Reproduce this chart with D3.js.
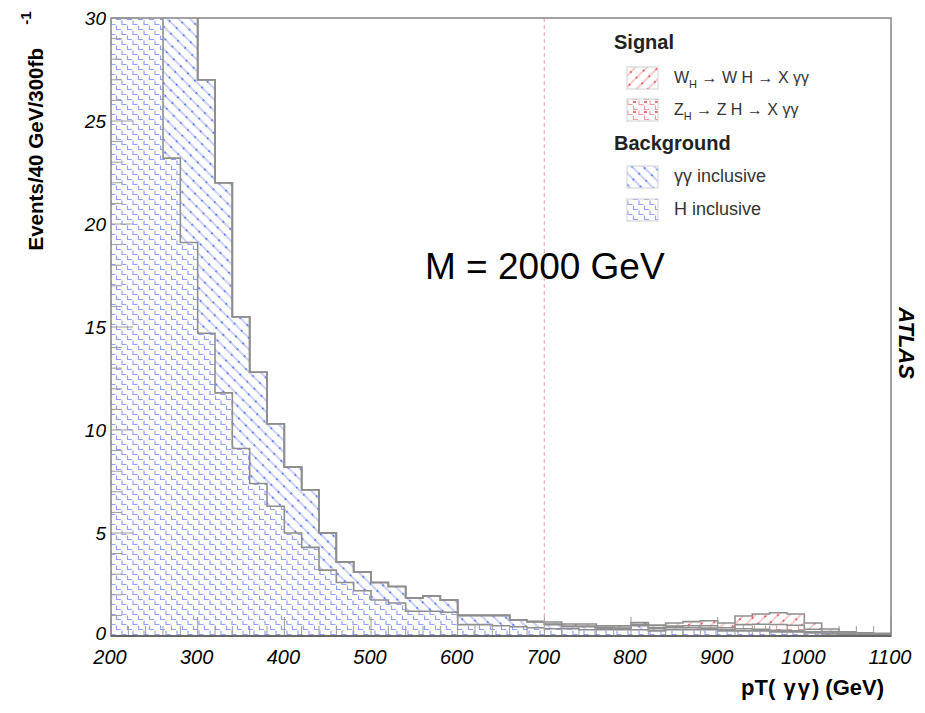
<!DOCTYPE html>
<html lang="en">
<head>
<meta charset="UTF-8">
<title>pT(γγ) stacked histogram</title>
<script src="https://d3js.org/d3.v7.min.js"></script>
<style>
  body { margin: 0; background: #fff; }
  text { font-family: "Liberation Sans", Arial, sans-serif; }
</style>
</head>
<body>
<script>
// bin lower edges (GeV), 20 GeV wide
var binStart = [200, 220, 240, 260, 280, 300, 320, 340, 360, 380,
                400, 420, 440, 460, 480, 500, 520, 540, 560, 580,
                600, 620, 640, 660, 680, 700, 720, 740, 760, 780,
                800, 820, 840, 860, 880, 900, 920, 940, 960, 980,
                1000, 1020, 1040, 1060, 1080];
var binEnd = 1100;

// background: H inclusive (bottom of stack)
var hIncl = [45, 38, 31, 23.2, 19.1, 14.7, 11.8, 9.1, 7.4, 6.3,
             5.0, 4.3, 3.2, 2.6, 2.2, 1.75, 1.6, 1.2, 1.2, 1.15,
             0.55, 0.55, 0.5, 0.45, 0.4, 0.35, 0.35, 0.3, 0.3, 0.3,
             0.3, 0.25, 0.3, 0.3, 0.3, 0.25, 0.25, 0.25, 0.2, 0.2,
             0.15, 0.1, 0.08, 0.06, 0.05];
// background: gamma gamma inclusive
var ggIncl = [15, 12, 11, 12.8, 11.9, 12.3, 10.2, 6.4, 5.4, 4.0,
              3.2, 2.8, 1.8, 1.0, 0.9, 0.85, 0.8, 0.65, 0.75, 0.6,
              0.45, 0.45, 0.5, 0.33, 0.3, 0.2, 0.1, 0.15, 0.08, 0.06,
              0.2, 0.1, 0.1, 0.1, 0.08, 0.05, 0.1, 0.08, 0.08, 0.05,
              0.05, 0.04, 0.03, 0.02, 0.02];
// signal: Z_H -> Z H -> X gamma gamma
var zhSig = [0, 0, 0, 0, 0, 0, 0, 0, 0, 0,
             0, 0, 0, 0, 0, 0, 0, 0, 0, 0,
             0, 0, 0, 0, 0, 0.03, 0.03, 0.03, 0.03, 0.03,
             0.05, 0.06, 0.08, 0.1, 0.12, 0.1, 0.2, 0.24, 0.28, 0.27,
             0.13, 0.07, 0.03, 0.02, 0.02];
// signal: W_H -> W H -> X gamma gamma
var whSig = [0, 0, 0, 0, 0, 0, 0, 0, 0, 0,
             0, 0, 0, 0, 0, 0, 0, 0, 0, 0,
             0, 0, 0, 0, 0, 0.1, 0.1, 0.1, 0.08, 0.1,
             0.1, 0.12, 0.15, 0.2, 0.24, 0.23, 0.42, 0.5, 0.57, 0.55,
             0.3, 0.13, 0.06, 0.05, 0.04];

var xTicks = [200, 300, 400, 500, 600, 700, 800, 900, 1000, 1100];
var yTicks = [0, 5, 10, 15, 20, 25, 30];
var massLine = 700;

var width = 925, height = 713;
var svg = d3.select("body").append("svg")
    .attr("width", width).attr("height", height);

var x = d3.scaleLinear().domain([200, 1100]).range([111, 891]);
var y = d3.scaleLinear().domain([0, 30]).range([636, 18]);

var defs = svg.append("defs");
defs.append("clipPath").attr("id", "plotClip")
    .append("rect").attr("x", x(200)).attr("y", y(30))
    .attr("width", x(1100) - x(200)).attr("height", y(0) - y(30));

// diagonal hatch: light line with darker dots along it
function diagPattern(id, light, dark, angle) {
  var p = defs.append("pattern").attr("id", id)
      .attr("patternUnits", "userSpaceOnUse")
      .attr("width", 8).attr("height", 10)
      .attr("patternTransform", "rotate(" + angle + ")");
  p.append("line").attr("x1", 1).attr("y1", 0).attr("x2", 1).attr("y2", 10)
      .attr("stroke", light).attr("stroke-width", 1.4);
  p.append("line").attr("x1", 1).attr("y1", 4).attr("x2", 1).attr("y2", 5.6)
      .attr("stroke", dark).attr("stroke-width", 1.6);
}
// staircase "L" hatch
function stairPattern(id, col, dashCol) {
  var p = defs.append("pattern").attr("id", id)
      .attr("patternUnits", "userSpaceOnUse")
      .attr("width", 11).attr("height", 10);
  p.append("path").attr("d", "M1,0.5 v4 h4.5 M6.5,5.5 v4 h4.5")
      .attr("fill", "none").attr("stroke", col).attr("stroke-width", 1.2);
  if (dashCol) {
    p.append("path").attr("d", "M6,2 h3").attr("stroke", dashCol).attr("stroke-width", 1.3);
  }
}
diagPattern("patGG", "#b3bcf6", "#2a55f0", -45);
diagPattern("patWH", "#f6b3b3", "#e02020", 45);
stairPattern("patH", "#929ff8", null);
stairPattern("patZH", "#f19a9a", "#e02020");

// stack: H, gg, ZH, WH
var layers = [
  { vals: hIncl, fill: "url(#patH)" },
  { vals: ggIncl, fill: "url(#patGG)" },
  { vals: zhSig, fill: "url(#patZH)" },
  { vals: whSig, fill: "url(#patWH)" }
];
var cum = binStart.map(function () { return 0; });
layers.forEach(function (l) {
  l.lo = cum.slice();
  cum = cum.map(function (c, i) { return c + l.vals[i]; });
  l.hi = cum.slice();
});

function stepPts(lo, hi) {
  var pts = binStart.map(function (b, i) { return { x: b, lo: lo[i], hi: hi[i] }; });
  var n = pts.length - 1;
  pts.push({ x: binEnd, lo: lo[n], hi: hi[n] });
  return pts;
}

var plot = svg.append("g").attr("clip-path", "url(#plotClip)");
var area = d3.area().curve(d3.curveStepAfter)
    .x(function (d) { return x(d.x); })
    .y0(function (d) { return y(d.lo); })
    .y1(function (d) { return y(d.hi); });
var line = d3.line().curve(d3.curveStepAfter)
    .x(function (d) { return x(d.x); })
    .y(function (d) { return y(d.hi); });

layers.forEach(function (l) {
  plot.append("path").datum(stepPts(l.lo, l.hi))
      .attr("d", area).attr("fill", l.fill).attr("stroke", "none");
});
layers.forEach(function (l) {
  plot.append("path").datum(stepPts(l.lo, l.hi))
      .attr("d", line).attr("fill", "none")
      .attr("stroke", "#8e8e8e").attr("stroke-width", 1.6);
});

// dashed mass marker
svg.append("line")
    .attr("x1", x(massLine)).attr("x2", x(massLine))
    .attr("y1", y(30)).attr("y2", y(0))
    .attr("stroke", "#f4b6be").attr("stroke-width", 1.3)
    .attr("stroke-dasharray", "4,3");

// inward ticks
var tickCol = "#9a9a9a";
var axB = svg.append("g");
d3.range(200, 1101, 20).forEach(function (v) {
  var major = v % 100 === 0;
  axB.append("line").attr("x1", x(v)).attr("x2", x(v))
      .attr("y1", y(0)).attr("y2", y(0) - (major ? 19 : 10))
      .attr("stroke", tickCol).attr("stroke-width", 1);
});
d3.range(0, 31, 1).forEach(function (v) {
  var major = v % 5 === 0;
  axB.append("line").attr("x1", x(200)).attr("x2", x(200) + (major ? 22 : 11))
      .attr("y1", y(v)).attr("y2", y(v))
      .attr("stroke", tickCol).attr("stroke-width", 1);
});

// frame
svg.append("rect").attr("x", x(200)).attr("y", y(30))
    .attr("width", x(1100) - x(200)).attr("height", y(0) - y(30))
    .attr("fill", "none").attr("stroke", "#8c8c8c").attr("stroke-width", 1.6);
svg.append("line").attr("x1", x(200)).attr("x2", x(1100))
    .attr("y1", y(0)).attr("y2", y(0)).attr("stroke", "#555").attr("stroke-width", 1.5);

// tick labels
svg.selectAll(".xl").data(xTicks).enter().append("text")
    .attr("x", function (d) { return x(d) - 1; }).attr("y", 664)
    .attr("text-anchor", "middle").attr("font-size", 20).attr("font-style", "italic")
    .text(function (d) { return d; });
svg.selectAll(".yl").data(yTicks).enter().append("text")
    .attr("x", 106).attr("y", function (d) { return y(d) + (d === 0 ? 4 : 7); })
    .attr("text-anchor", "end").attr("font-size", 19).attr("font-style", "italic")
    .text(function (d) { return d; });

// axis titles
var xt = svg.append("text").attr("x", 884).attr("y", 695).attr("text-anchor", "end")
    .attr("font-size", 22).attr("font-weight", "bold");
xt.append("tspan").text("pT(");
xt.append("tspan").attr("letter-spacing", 2).text(" γγ");
xt.append("tspan").text(") (GeV)");
svg.append("text").attr("transform", "translate(43,48) rotate(-90)")
    .attr("text-anchor", "end").attr("font-size", 20.6).attr("font-weight", "bold")
    .text("Events/40 GeV/300fb");
svg.append("text").attr("transform", "translate(31,18) rotate(-90)")
    .attr("text-anchor", "middle").attr("font-size", 15).attr("font-weight", "bold")
    .text("-1");
svg.append("text").attr("transform", "translate(899,343) rotate(90)")
    .attr("text-anchor", "middle").attr("font-size", 22).attr("font-weight", "bold")
    .attr("font-style", "italic").text("ATLAS");

svg.append("text").attr("x", 425).attr("y", 279).attr("font-size", 37)
    .text("M = 2000 GeV");

// legend
var leg = svg.append("g");
var legHead = [{ t: "Signal", y: 49 }, { t: "Background", y: 150 }];
leg.selectAll(".lh").data(legHead).enter().append("text")
    .attr("x", 614).attr("y", function (d) { return d.y; })
    .attr("font-size", 20).attr("font-weight", "bold").attr("fill", "#222")
    .text(function (d) { return d.t; });
var legItems = [
  { fill: "url(#patWH)", y: 67, main: ["W", "H", "W H", "X γγ"] },
  { fill: "url(#patZH)", y: 99, main: ["Z", "H", "Z H", "X γγ"] },
  { fill: "url(#patGG)", y: 166, main: ["γγ inclusive"] },
  { fill: "url(#patH)", y: 199, main: ["H inclusive"] }
];
legItems.forEach(function (it) {
  leg.append("rect").attr("x", 627).attr("y", it.y).attr("width", 31).attr("height", 22)
      .attr("fill", it.fill).attr("stroke", "#d0d0d0").attr("stroke-width", 1);
  var t = leg.append("text").attr("x", 674).attr("y", it.y + 16)
      .attr("font-size", it.main.length > 1 ? 16 : 18).attr("fill", "#333");
  if (it.main.length > 1) {
    t.append("tspan").text(it.main[0]);
    t.append("tspan").attr("font-size", 11).attr("dy", 5).text(it.main[1]);
    t.append("tspan").attr("dy", -5).text(" → ");
    t.append("tspan").text(it.main[2]);
    t.append("tspan").text(" → ");
    t.append("tspan").text(it.main[3]);
  } else {
    t.text(it.main[0]);
  }
});
</script>
</body>
</html>
